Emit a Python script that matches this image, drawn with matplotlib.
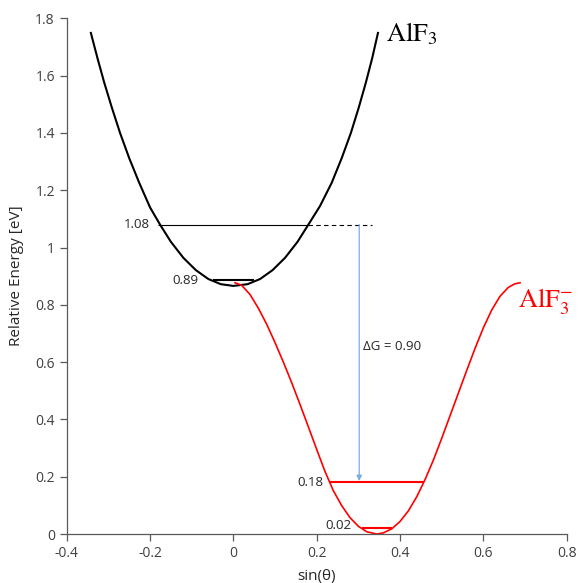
import matplotlib.pyplot as plt

plt.rcParams['font.family'] = ['Open Sans', 'DejaVu Sans']
plt.rcParams['axes.unicode_minus'] = False
plt.rcParams['mathtext.fontset'] = 'stix'

# AlF3 neutral curve
neutral_x = [-0.342, -0.326, -0.310, -0.292, -0.272, -0.250, -0.226, -0.200, -0.176, -0.150,
             -0.120, -0.090, -0.060, -0.030, 0.0, 0.034, 0.064, 0.094, 0.124, 0.154,
             0.180, 0.208, 0.236, 0.260, 0.282, 0.301, 0.318, 0.333, 0.347]
neutral_y = [1.749, 1.660, 1.576, 1.490, 1.400, 1.312, 1.226, 1.140, 1.080, 1.020,
             0.964, 0.921, 0.890, 0.872, 0.866, 0.872, 0.890, 0.921, 0.964, 1.020,
             1.080, 1.145, 1.226, 1.312, 1.400, 1.489, 1.576, 1.660, 1.749]

# AlF3- anion curve
anion_x = [0.004, 0.020, 0.040, 0.060, 0.080, 0.100, 0.120, 0.140, 0.160, 0.180, 0.200,
           0.220, 0.240, 0.260, 0.280, 0.300, 0.320, 0.344, 0.360, 0.380, 0.400, 0.420,
           0.440, 0.460, 0.480, 0.500, 0.520, 0.540, 0.560, 0.580, 0.600, 0.620, 0.640,
           0.660, 0.675, 0.688]
anion_y = [0.877, 0.868, 0.836, 0.788, 0.732, 0.668, 0.600, 0.528, 0.452, 0.374, 0.295,
           0.218, 0.151, 0.099, 0.057, 0.027, 0.008, 0.000, 0.004, 0.018, 0.044, 0.081,
           0.130, 0.190, 0.258, 0.334, 0.413, 0.492, 0.571, 0.648, 0.720, 0.782, 0.830,
           0.861, 0.873, 0.877]

# energy levels: value, x start, x end
level_black_big = (1.08, -0.18, 0.18)
level_black_small = (0.885, -0.05, 0.05)
level_red_big = (0.18, 0.232, 0.458)
level_red_small = (0.02, 0.308, 0.38)
dashed_end = 0.332
arrow_x = 0.302

fig = plt.figure(figsize=(5.79, 5.83), dpi=100)
ax = fig.add_axes([0.1152, 0.084, 0.8636, 0.8846])

ax.plot(neutral_x, neutral_y, color='black', lw=1.5, solid_joinstyle='round')
ax.plot(anion_x, anion_y, color='#ff0000', lw=1.2, solid_joinstyle='round')

ax.hlines(level_black_big[0], level_black_big[1], level_black_big[2], color='black', lw=0.8)
ax.hlines(level_black_big[0], level_black_big[2], dashed_end, color='black', lw=0.8,
          linestyles=(0, (4, 3)))
ax.hlines(level_black_small[0], level_black_small[1], level_black_small[2], color='black', lw=1.5)
ax.hlines(level_red_big[0], level_red_big[1], level_red_big[2], color='#ff0000', lw=1.5)
ax.hlines(level_red_small[0], level_red_small[1], level_red_small[2], color='#ff0000', lw=1.5)

ax.annotate('', xy=(arrow_x, level_red_big[0] + 0.005), xytext=(arrow_x, level_black_big[0]),
            arrowprops=dict(arrowstyle='-|>', color='#7aaee0', lw=0.9,
                            mutation_scale=8, shrinkA=0, shrinkB=0))

lbl = dict(fontsize=9.5, color='#262626', va='center', ha='right')
ax.text(-0.2, 1.08, '1.08', **lbl)
ax.text(-0.083, 0.885, '0.89', **lbl)
ax.text(0.215, 0.18, '0.18', **lbl)
ax.text(0.284, 0.03, '0.02', **lbl)
ax.text(0.312, 0.654, '\u0394G = 0.90', fontsize=9.5, color='#262626', va='center', ha='left')

ax.text(0.366, 1.745, r'$\mathrm{AlF}_3$', fontsize=19, color='black', va='center', ha='left')
ax.text(0.682, 0.81, r'$\mathrm{AlF}_3^{-}$', fontsize=19, color='#ff0000', va='center', ha='left')

ax.set_xlim(-0.4, 0.8)
ax.set_ylim(0, 1.8)
xt = [-0.4, -0.2, 0, 0.2, 0.4, 0.6, 0.8]
yt = [0, 0.2, 0.4, 0.6, 0.8, 1, 1.2, 1.4, 1.6, 1.8]
ax.set_xticks(xt)
ax.set_xticklabels([f'{v:g}' for v in xt])
ax.set_yticks(yt)
ax.set_yticklabels([f'{v:g}' for v in yt])
ax.tick_params(direction='out', length=5, width=0.9, color='#595959',
               labelsize=10, labelcolor='#404040')
ax.spines['top'].set_visible(False)
ax.spines['right'].set_visible(False)
for s in ('left', 'bottom'):
    ax.spines[s].set_color('#595959')
    ax.spines[s].set_linewidth(0.9)

ax.set_xlabel('sin(\u03b8)', fontsize=11, color='#262626', labelpad=6)
ax.set_ylabel('Relative Energy [eV]', fontsize=11, color='#262626', labelpad=8)

fig.savefig('out.png', dpi=100)
